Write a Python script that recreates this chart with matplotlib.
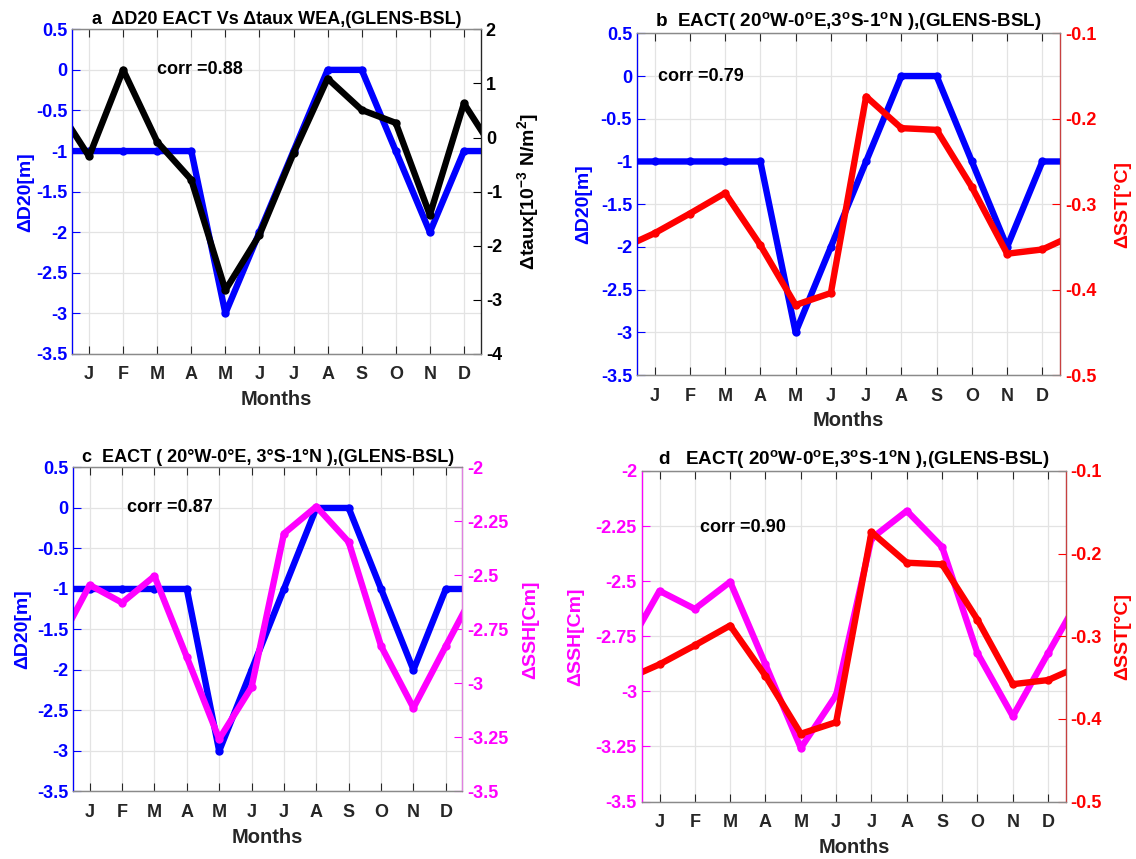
import numpy as np
import matplotlib.pyplot as plt

plt.rcParams['font.family'] = ['Liberation Sans', 'DejaVu Sans']
plt.rcParams['font.weight'] = 'bold'
plt.rcParams['mathtext.fontset'] = 'custom'
plt.rcParams['mathtext.rm'] = 'Liberation Sans:bold'
plt.rcParams['mathtext.bf'] = 'Liberation Sans:bold'
plt.rcParams['axes.unicode_minus'] = False

months = ["J", "F", "M", "A", "M", "J", "J", "A", "S", "O", "N", "D"]
d20 = [-1, -1, -1, -1, -3, -2, -1, 0, 0, -1, -2, -1]
taux = [-0.35, 1.25, -0.08, -0.78, -2.82, -1.80, -0.29, 1.09, 0.51, 0.27, -1.43, 0.63]
sst = [-0.334, -0.311, -0.287, -0.348, -0.418, -0.404, -0.174, -0.211, -0.213, -0.280, -0.358, -0.353]
ssh = [-2.544, -2.626, -2.503, -2.878, -3.257, -3.017, -2.306, -2.181, -2.345, -2.827, -3.113, -2.827]
corrs = ["0.88", "0.79", "0.87", "0.90"]

BLUE = '#0000ff'
RED = '#ff0000'
MAG = '#ff00ff'
BLACK = '#000000'


def cyclic(v):
    # pad with Dec before Jan and Jan after Dec so lines run to the edges
    x = np.arange(0, 14)
    y = np.r_[v[-1], v, v[0]]
    return x, y


def fmt(v):
    return "%g" % v


def panel(rect, title, left, right, corr_xy, pads, tsize=13):
    ax = fig.add_axes(rect)
    ax2 = ax.twinx()
    (lv, lc, llab, llim, lstep), (rv, rc, rlab, rlim, rstep, rspine) = left, right
    x, y = cyclic(lv)
    ax.plot(x, y, color=lc, lw=4.6, marker='o', ms=5, solid_joinstyle='round')
    x, y = cyclic(rv)
    ax2.plot(x, y, color=rc, lw=4.6, marker='o', ms=5, solid_joinstyle='round')

    ax.set_xlim(0.5, 12.5)
    ax.set_xticks(np.arange(1, 13))
    ax.set_xticklabels(months)
    lt = np.arange(llim[0], llim[1] + lstep / 2, lstep)
    ax.set_ylim(llim)
    ax.set_yticks(lt)
    ax.set_yticklabels([fmt(t) for t in lt])
    rt = np.arange(rlim[0], rlim[1] + rstep / 2, rstep)
    ax2.set_ylim(rlim)
    ax2.set_yticks(rt)
    ax2.set_yticklabels([fmt(round(t, 2)) for t in rt])

    ax.grid(True, color='#e3e3e3', lw=0.9)
    ax.set_axisbelow(True)
    ax.xaxis.set_ticks_position('both')
    ax.tick_params(axis='x', direction='in', length=6, labelsize=13, colors='#262626',
                   pad=9, width=0.8)
    ax.tick_params(axis='y', direction='in', length=6, labelsize=13, colors=lc, width=0.8)
    ax2.tick_params(axis='y', direction='in', length=6, labelsize=13, colors=rc, width=0.8)
    for t in ax.get_xticklabels() + ax.get_yticklabels() + ax2.get_yticklabels():
        t.set_fontweight('bold')

    for s in ['top', 'bottom']:
        ax2.spines[s].set_color('#8a8a8a')
    ax2.spines['left'].set_color(lc)
    ax2.spines['right'].set_color(rspine)
    for s in ax2.spines.values():
        s.set_linewidth(0.9)

    ax.set_xlabel("Months", fontsize=14.5, fontweight='bold', color='#262626', labelpad=5)
    ax.set_ylabel(llab, fontsize=14, fontweight='bold', color=lc, labelpad=pads[0])
    ax2.set_ylabel(rlab, fontsize=14, fontweight='bold', color=rc, rotation=90,
                   labelpad=pads[1])
    ax.set_title(title, fontsize=tsize, fontweight='bold', pad=4)
    ax.text(corr_xy[0], corr_xy[1], corr_xy[2], fontsize=13, fontweight='bold',
            va='center', ha='left', zorder=5)
    return ax, ax2


fig = plt.figure(figsize=(11.36, 8.59), dpi=100)

deg = r"$^{\rm o}$"

panel([0.0634, 0.5879, 0.36, 0.378],
      "a  \u0394D20 EACT Vs \u0394taux WEA,(GLENS-BSL)",
      (d20, BLUE, "\u0394D20[m]", (-3.5, 0.5), 0.5),
      (taux, BLACK, "\u0394taux[10$^{-3}$ N/m$^2$]", (-4, 2), 1, '#262626'),
      (3.0, 0.0, "corr =" + corrs[0]), (1, 10))

panel([0.5607, 0.5634, 0.3724, 0.3978],
      "b  EACT( 20" + deg + "W-0" + deg + "E,3" + deg + "S-1" + deg + "N ),(GLENS-BSL)",
      (d20, BLUE, "\u0394D20[m]", (-3.5, 0.5), 0.5),
      (sst, RED, "\u0394SST[\u00b0C]", (-0.5, -0.1), 0.1, '#c84040'),
      (1.1, 0.0, "corr =" + corrs[1]), (6, 13), tsize=13.6)

panel([0.0647, 0.0786, 0.342, 0.3772],
      "c  EACT ( 20\u00b0W-0\u00b0E, 3\u00b0S-1\u00b0N ),(GLENS-BSL)",
      (d20, BLUE, "\u0394D20[m]", (-3.5, 0.5), 0.5),
      (ssh, MAG, "\u0394SSH[Cm]", (-3.5, -2), 0.25, '#e080e0'),
      (2.15, 0.0, "corr =" + corrs[2]), (4, 10))

panel([0.565, 0.0669, 0.3732, 0.3848],
      "d   EACT( 20" + deg + "W-0" + deg + "E,3" + deg + "S-1" + deg + "N ),(GLENS-BSL)",
      (ssh, MAG, "\u0394SSH[Cm]", (-3.5, -2), 0.25),
      (sst, RED, "\u0394SST[\u00b0C]", (-0.5, -0.1), 0.1, '#c84040'),
      (2.14, -2.255, "corr =" + corrs[3]), (8, 9), tsize=13.6)

fig.savefig("out.png", dpi=100)
